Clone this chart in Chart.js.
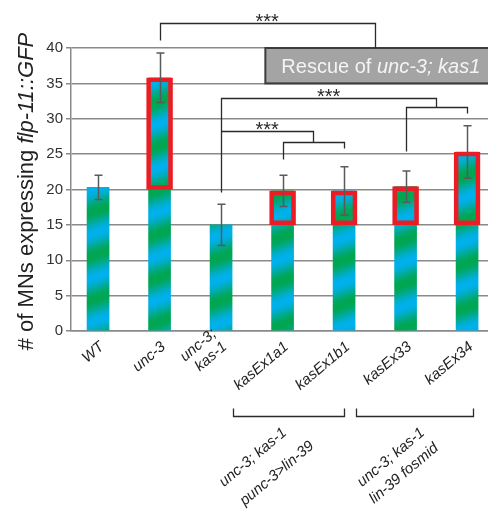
<!DOCTYPE html>
<html>
<head>
<meta charset="utf-8">
<script src="https://cdn.jsdelivr.net/npm/chart.js@4/dist/chart.umd.min.js"></script>
<style>
  html, body { margin: 0; padding: 0; background: #fff; overflow: hidden; }
  #wrap { width: 488px; height: 512px; }
</style>
</head>
<body>
<div id="wrap"><canvas id="c" width="488" height="512"></canvas></div>
<script>
// Strains on the x axis (multi-line names are arrays of lines)
const categories = [['WT'], ['unc-3'], ['unc-3;', 'kas-1'], ['kasEx1a1'], ['kasEx1b1'], ['kasEx33'], ['kasEx34']];
// Mean number of MNs expressing flp-11::GFP, and error (+/-)
const means  = [20.3, 35.8, 15.0, 19.8, 19.8, 20.4, 25.3];
const errors = [1.7, 3.5, 2.9, 2.2, 3.4, 2.2, 3.7];
// Lower edge of the highlighted (outlined) part of each bar; null = no outline
const boxBase = [null, 20, null, 15, 15, 15, 15];
// y axis
const yMin = 0, yMax = 40, yStep = 5;
// Transgene groups under the axis
const groupNames = [['unc-3; kas-1', 'punc-3>lin-39'], ['unc-3; kas-1', 'lin-39 fosmid']];
const groupSpans = [[2.2, 4.0], [4.2, 6.1]];
const starText = '***';

const FONT = "'Liberation Sans', Arial, Helvetica, sans-serif";

// Diagonal green/cyan stripe fill used for every bar
function makeStripes() {
  const W = 132, P = 44, s = P / W;
  const tile = document.createElement('canvas');
  tile.width = W; tile.height = P;
  const tctx = tile.getContext('2d');
  const img = tctx.createImageData(W, P);
  const g = [0, 166, 80], c = [0, 176, 236];
  for (let y = 0; y < P; y++) {
    for (let x = 0; x < W; x++) {
      const t = ((y + s * x) % P) / P;
      const m = 0.5 + 0.5 * Math.cos(2 * Math.PI * t);
      const k = (y * W + x) * 4;
      img.data[k]     = g[0] + (c[0] - g[0]) * m;
      img.data[k + 1] = g[1] + (c[1] - g[1]) * m;
      img.data[k + 2] = g[2] + (c[2] - g[2]) * m;
      img.data[k + 3] = 255;
    }
  }
  tctx.putImageData(img, 0, 0);
  return tctx.createPattern(tile, 'repeat');
}

const barData = means.map((v, i) => ({ x: i, y: v }));
const boxData = means
  .map((v, i) => (boxBase[i] === null ? null : { x: i, y: [boxBase[i], v] }))
  .filter(d => d !== null);

// Helper: draw text made of [text, italic] runs starting at (x, y)
function drawRuns(ctx, runs, x, y, size) {
  let cx = x;
  runs.forEach(([t, it]) => {
    ctx.font = (it ? 'italic ' : '') + size + 'px ' + FONT;
    ctx.fillText(t, cx, y);
    cx += ctx.measureText(t).width;
  });
}
function runsWidth(ctx, runs, size) {
  let w = 0;
  runs.forEach(([t, it]) => {
    ctx.font = (it ? 'italic ' : '') + size + 'px ' + FONT;
    w += ctx.measureText(t).width;
  });
  return w;
}

const decorations = {
  id: 'decorations',
  afterDatasetsDraw(chart) {
    const { ctx, scales: { x, y } } = chart;
    // error bars
    ctx.save();
    ctx.strokeStyle = '#5a5a5a';
    ctx.lineWidth = 1.5;
    means.forEach((m, i) => {
      const px = Math.round(x.getPixelForValue(i)) + 0.5;
      const t = y.getPixelForValue(m + errors[i]);
      const b = y.getPixelForValue(m - errors[i]);
      ctx.beginPath();
      ctx.moveTo(px, t); ctx.lineTo(px, b);
      ctx.moveTo(px - 4, t); ctx.lineTo(px + 4, t);
      ctx.moveTo(px - 4, b); ctx.lineTo(px + 4, b);
      ctx.stroke();
    });
    ctx.restore();
  },
  afterDraw(chart) {
    const { ctx, scales: { x, y }, chartArea } = chart;
    const X = v => x.getPixelForValue(v);
    const Y = v => y.getPixelForValue(v);

    // "Rescue of unc-3; kas1" box, spanning 35..40 on the y axis
    ctx.save();
    const bx = X(2.72), by = Y(40), bh = Y(35) - Y(40);
    ctx.fillStyle = '#a4a4a4';
    ctx.fillRect(bx, by, chartArea.right + 4 - bx, bh);
    ctx.strokeStyle = '#3c3c3c';
    ctx.lineWidth = 2;
    ctx.strokeRect(bx, by, chartArea.right + 4 - bx, bh);
    ctx.fillStyle = '#f4f4f4';
    ctx.textBaseline = 'alphabetic';
    ctx.textAlign = 'left';
    drawRuns(ctx, [['Rescue of ', false], ['unc-3; kas1', true]], bx + 16, by + bh / 2 + 7, 20);
    ctx.restore();

    // significance brackets (data coordinates)
    const brackets = [
      { span: [1, 4.5], level: 43.5, paths: [[[1, 41.2], [1, 43.5], [4.5, 43.5], [4.5, 40]]] },
      { span: [2, 5.5], level: 32.9, paths: [[[2, 19.6], [2, 32.9], [5.5, 32.9], [5.5, 31.7]],
                                              [[5, 25.4], [5, 31.7], [6, 31.7], [6, 30.8]]] },
      { span: [2, 3.5], level: 28.2, paths: [[[2, 28.2], [3.5, 28.2], [3.5, 26.7]],
                                              [[3, 24.3], [3, 26.7], [4, 26.7], [4, 25.9]]] }
    ];
    ctx.save();
    ctx.strokeStyle = '#2a2a2a';
    ctx.lineWidth = 1.3;
    ctx.fillStyle = '#2a2a2a';
    ctx.textAlign = 'center';
    ctx.textBaseline = 'alphabetic';
    ctx.font = '20px ' + FONT;
    brackets.forEach(br => {
      br.paths.forEach(p => {
        ctx.beginPath();
        p.forEach(([vx, vy], k) => {
          const px = Math.round(X(vx)) + 0.5, py = Math.round(Y(vy)) + 0.5;
          if (k === 0) ctx.moveTo(px, py); else ctx.lineTo(px, py);
        });
        ctx.stroke();
      });
      ctx.fillText(starText, X((br.span[0] + br.span[1]) / 2), Y(br.level) + 5);
    });
    ctx.restore();

    // rotated category labels
    const ang = -40 * Math.PI / 180;
    ctx.save();
    ctx.fillStyle = '#222';
    ctx.font = 'italic 15px ' + FONT;
    ctx.textAlign = 'right';
    ctx.textBaseline = 'middle';
    categories.forEach((lines, i) => {
      ctx.save();
      ctx.translate(X(i) + 4, chartArea.bottom + 14);
      ctx.rotate(ang);
      lines.forEach((ln, k) => ctx.fillText(ln, 0, -(lines.length - 1 - k) * 17));
      ctx.restore();
    });
    ctx.restore();

    // group brackets and their labels
    ctx.save();
    ctx.strokeStyle = '#2a2a2a';
    ctx.lineWidth = 1.3;
    ctx.fillStyle = '#222';
    ctx.font = 'italic 15px ' + FONT;
    ctx.textAlign = 'center';
    ctx.textBaseline = 'middle';
    const gTop = chartArea.bottom + 77.5, gBot = chartArea.bottom + 85.5;
    const lineCenters = [[[-36, 41], [-12, 57]], [[-24, 41], [-11, 57]]];
    groupSpans.forEach((sp, g) => {
      const x0 = Math.round(X(sp[0])) + 0.5, x1 = Math.round(X(sp[1])) + 0.5;
      ctx.beginPath();
      ctx.moveTo(x0, gTop); ctx.lineTo(x0, gBot); ctx.lineTo(x1, gBot); ctx.lineTo(x1, gTop);
      ctx.stroke();
      const cx = (x0 + x1) / 2;
      groupNames[g].forEach((ln, k) => {
        ctx.save();
        ctx.translate(cx + lineCenters[g][k][0], gBot + lineCenters[g][k][1]);
        ctx.rotate(ang);
        ctx.fillText(ln, 0, 0);
        ctx.restore();
      });
    });
    ctx.restore();

    // y axis title
    ctx.save();
    ctx.fillStyle = '#222';
    ctx.textAlign = 'left';
    ctx.textBaseline = 'alphabetic';
    const runs = [['# of MNs expressing ', false], ['flp-11::GFP', true]];
    const tw = runsWidth(ctx, runs, 22);
    ctx.translate(33, 191.5);
    ctx.rotate(-Math.PI / 2);
    drawRuns(ctx, runs, -tw / 2, 0, 22);
    ctx.restore();
  }
};

const canvas = document.getElementById('c');
const stripes = makeStripes();

new Chart(canvas, {
  type: 'bar',
  data: {
    datasets: [
      {
        label: 'highlight',
        data: boxData,
        backgroundColor: 'rgba(0,0,0,0)',
        borderColor: '#ec1c24',
        borderWidth: 4,
        borderSkipped: false,
        barThickness: 26,
        grouped: false,
        order: 1
      },
      {
        label: 'mean',
        data: barData,
        backgroundColor: stripes,
        borderWidth: 0,
        barThickness: 22,
        grouped: false,
        order: 2
      }
    ]
  },
  options: {
    responsive: false,
    animation: false,
    devicePixelRatio: 1,
    layout: { padding: { left: 0, right: 0, top: 48, bottom: 181 } },
    plugins: { legend: { display: false }, tooltip: { enabled: false } },
    scales: {
      x: {
        type: 'linear',
        offset: false,
        min: -0.44,
        max: 6.34,
        grid: { display: false, drawTicks: false, offset: false },
        border: { display: true, color: '#8a8a8a', width: 1.5 },
        ticks: { display: false },
        afterFit(s) { s.height = 0; }
      },
      y: {
        min: yMin,
        max: yMax,
        ticks: { stepSize: yStep, color: '#333', padding: 3, font: { family: FONT, size: 15 } },
        grid: { color: '#8a8a8a', lineWidth: 1.5, tickLength: 5, tickColor: '#8a8a8a' },
        border: { color: '#8a8a8a', width: 1.5 },
        afterFit(s) { s.width = 71; }
      }
    }
  },
  plugins: [decorations]
});
</script>
</body>
</html>
